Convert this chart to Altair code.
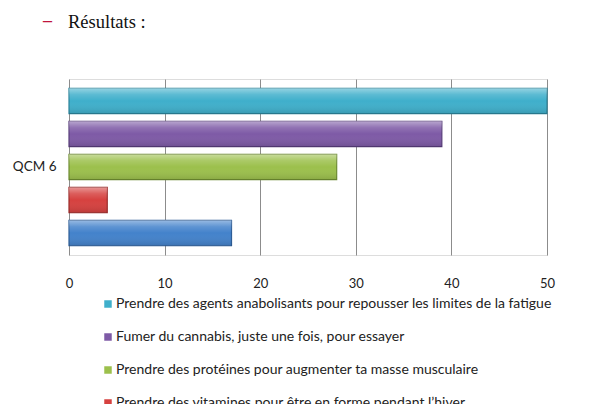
import altair as alt
import pandas as pd

question = ["QCM 6"] * 5
series = [
    "Prendre des agents anabolisants pour repousser les limites de la fatigue",
    "Fumer du cannabis, juste une fois, pour essayer",
    "Prendre des protéines pour augmenter ta masse musculaire",
    "Prendre des vitamines pour être en forme pendant l\u2019hiver",
    "Autre réponse",
]
values = [50, 39, 28, 4, 17]
colors = ["#3FAFCB", "#7E5AA6", "#9CC04C", "#D6413F", "#4382CB"]
strokes = ["#2A8299", "#573C7A", "#6E8C30", "#9A2A28", "#2C5C96"]

df = pd.DataFrame({"q": question, "serie": series, "val": values})

base_w, base_h = 478, 176

x_enc = alt.X("val:Q", scale=alt.Scale(domain=[0, 50]),
              axis=alt.Axis(values=[0, 10, 20, 30, 40, 50], grid=True, gridColor="#8c8c8c",
                            gridWidth=1, domain=False, ticks=False, labelPadding=22,
                            labelFlush=False,
                            labelFont="Lato", labelFontSize=13, labelColor="#222", title=None))
y_enc = alt.Y("q:N", scale=alt.Scale(paddingInner=0, paddingOuter=0),
              axis=alt.Axis(domain=False, ticks=False, labelPadding=13, labelFont="Lato",
                            labelFontSize=13.5, labelColor="#222", title=None))
yoff_enc = alt.YOffset("serie:N", sort=series,
                       scale=alt.Scale(paddingInner=0.23, paddingOuter=0.28))

bars = alt.Chart(df).mark_bar(strokeWidth=1.2).encode(
    x=x_enc, y=y_enc, yOffset=yoff_enc,
    color=alt.Color("serie:N", sort=series,
                    scale=alt.Scale(domain=series, range=colors),
                    legend=alt.Legend(orient="none", legendX=32, legendY=218, title=None,
                                      symbolType="square", symbolSize=56, symbolStrokeWidth=0,
                                      labelFont="Lato", labelFontSize=14, labelColor="#222",
                                      labelOffset=1, rowPadding=19, labelLimit=600,
                                      direction="vertical")),
    stroke=alt.Stroke("serie:N", sort=series,
                      scale=alt.Scale(domain=series, range=strokes), legend=None),
)

shine = alt.Chart(df).mark_bar(
    strokeWidth=0,
    color=alt.Gradient(
        gradient="linear", x1=0, y1=0, x2=0, y2=1,
        stops=[alt.GradientStop(color="rgba(255,255,255,0.45)", offset=0),
               alt.GradientStop(color="rgba(255,255,255,0.15)", offset=0.25),
               alt.GradientStop(color="rgba(255,255,255,0)", offset=0.5),
               alt.GradientStop(color="rgba(0,0,0,0.12)", offset=1)]),
).encode(x=x_enc, y=y_enc, yOffset=yoff_enc)

dash = alt.Chart(pd.DataFrame({"t": ["\u2013"]})).mark_text(
    font="Liberation Serif", fontSize=18, fontWeight="bold", color="#C0143C",
    align="left", baseline="middle"
).encode(x=alt.value(-26), y=alt.value(-58), text="t:N")

title = alt.Chart(pd.DataFrame({"t": ["Résultats :"]})).mark_text(
    font="Liberation Serif", fontSize=18.5, color="#111", align="left", baseline="middle"
).encode(x=alt.value(-1), y=alt.value(-57), text="t:N")

chart = alt.layer(bars, shine, dash, title).properties(
    width=base_w, height=base_h,
    padding={"left": 69, "top": 79, "right": 69, "bottom": 149},
    autosize=alt.AutoSizeParams(type="none"),
).configure_view(stroke=None).configure(background="white")

chart.save("out.html", embed_options={"renderer": "svg", "actions": False})
